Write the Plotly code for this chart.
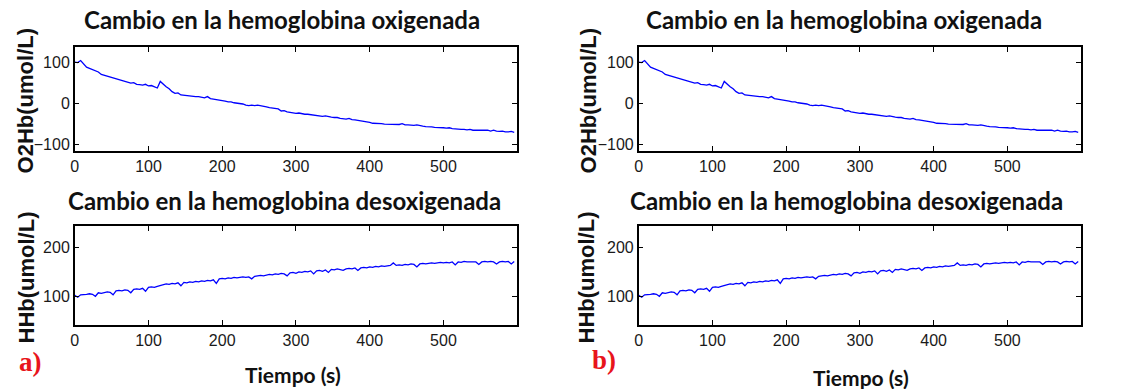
import plotly.graph_objects as go

# Time base (s) and hemoglobin concentration changes (umol/L)
tiempo = list(range(0, 600, 4))

o2hb = [
    100, 99, 104, 96, 88, 85, 82, 80, 76, 70, 68, 66, 63, 61, 59, 57, 56, 54, 52, 49,
    50, 46, 45, 44, 46, 42, 43, 40, 37, 53, 46, 40, 35, 28, 24, 25, 20, 19, 18, 18,
    17, 16, 16, 14, 13, 16, 11, 10, 9, 8, 6, 5, 3, 3, 1, 0, -1, -2, -5, -6,
    -5, -6, -5, -6, -8, -9, -11, -12, -13, -14, -19, -18, -21, -22, -23, -25, -24, -26, -27, -27,
    -28, -29, -29, -30, -32, -31, -33, -34, -35, -35, -37, -38, -39, -37, -40, -41, -42, -43, -44, -46,
    -47, -49, -49, -50, -50, -51, -51, -52, -52, -51, -52, -50, -53, -53, -54, -54, -53, -55, -56, -57,
    -57, -58, -59, -59, -60, -60, -61, -60, -62, -63, -63, -64, -64, -65, -64, -66, -66, -66, -67, -67,
    -66, -68, -66, -68, -69, -68, -70, -70, -69, -71,
]

hhb = [
    103, 99, 104, 104, 105, 106, 105, 101, 108, 107, 109, 110, 109, 104, 112, 113, 112, 114, 113, 108,
    115, 116, 115, 117, 111, 119, 120, 119, 121, 123, 124, 126, 125, 127, 126, 128, 122, 129, 128, 130,
    129, 131, 130, 132, 131, 133, 132, 134, 127, 136, 137, 136, 138, 137, 139, 138, 139, 140, 139, 140,
    136, 141, 142, 143, 142, 144, 145, 144, 146, 145, 147, 146, 142, 148, 149, 147, 150, 149, 151, 150,
    152, 146, 152, 153, 151, 154, 149, 155, 154, 156, 155, 153, 156, 157, 156, 158, 153, 158, 159, 158,
    160, 159, 161, 160, 162, 161, 162, 163, 168, 163, 164, 163, 165, 164, 166, 165, 160, 166, 167, 166,
    167, 168, 167, 168, 169, 168, 169, 168, 170, 164, 170, 169, 171, 170, 170, 171, 170, 165, 170, 171,
    170, 171, 170, 166, 170, 171, 170, 171, 166, 171,
]

x_ticks = [0, 100, 200, 300, 400, 500]
o2hb_ticks = [-100, 0, 100]
hhb_ticks = [100, 200]

titulo_o2 = "Cambio en la hemoglobina oxigenada"
titulo_hh = "Cambio en la hemoglobina desoxigenada"
etiqueta_o2 = "O2Hb(umol/L)"
etiqueta_hh = "HHb(umol/L)"
etiqueta_t = "Tiempo (s)"
paneles = ["a)", "b)"]

W, H = 1121, 389
LINE = "#0000ff"
TICK_FONT = dict(family="Liberation Sans Narrow, Liberation Sans, Arial", size=16, color="#1a1a1a")
TITLE_FONT = dict(family="Lato, Open Sans, sans-serif", size=24, color="#111111")
XLABEL_FONT = dict(family="Lato, Open Sans, sans-serif", size=21, color="#111111")
YLABEL_FONT = dict(family="Liberation Sans, Arial", size=22, color="#111111")
PANEL_FONT = dict(family="Liberation Serif, Times New Roman, serif", size=27, color="#e8141b")


def px(x):
    return x / W


def py(y):
    return 1 - y / H


fig = go.Figure()

# column and row extents of the plotting boxes, in pixels
cols = [(71, 515), (637, 1081)]
rows = [(47, 151.5), (227.3, 326.7)]

axis_common = dict(
    showline=True, linecolor="black", linewidth=1.5, mirror="ticks",
    ticks="inside", ticklen=5, tickcolor="black", tickwidth=1,
    showgrid=False, zeroline=False, tickfont=TICK_FONT,
)

idx = 0
for c, (x0, x1) in enumerate(cols):
    for r, (y0, y1) in enumerate(rows):
        idx += 1
        sfx = "" if idx == 1 else str(idx)
        xa = dict(axis_common, domain=[px(x0), px(x1)], range=[0, 600], tickvals=x_ticks,
                  anchor="y" + sfx)
        if r == 0:
            ya = dict(axis_common, domain=[py(y1), py(y0)], range=[-116, 137.6],
                      tickvals=o2hb_ticks, anchor="x" + sfx)
            yv = o2hb
        else:
            ya = dict(axis_common, domain=[py(y1), py(y0)], range=[43.2, 242],
                      tickvals=hhb_ticks, anchor="x" + sfx)
            yv = hhb
        fig.update_layout(**{"xaxis" + sfx: xa, "yaxis" + sfx: ya})
        fig.add_trace(go.Scatter(x=tiempo, y=yv, mode="lines",
                                 line=dict(color=LINE, width=1.3),
                                 xaxis="x" + sfx, yaxis="y" + sfx, showlegend=False))

annotations = []


def text(x, y, s, font, angle=0):
    annotations.append(dict(x=px(x), y=py(y), xref="paper", yref="paper", text=s,
                            showarrow=False, font=font, textangle=angle,
                            xanchor="center", yanchor="middle"))


for off in (0, 564):
    text(279 + off, 20, "<b>" + titulo_o2 + "</b>", TITLE_FONT)
    text(282 + off, 202, "<b>" + titulo_hh + "</b>", TITLE_FONT)
    text(22 + off + (1 if off else 0), 101, "<b>" + etiqueta_o2 + "</b>", YLABEL_FONT, -90)
    text(23 + off - (2 if off else 0), 279, "<b>" + etiqueta_hh + "</b>", YLABEL_FONT, -90)

text(290, 376, "<b>" + etiqueta_t + "</b>", XLABEL_FONT)
text(860, 379, "<b>" + etiqueta_t + "</b>", XLABEL_FONT)
text(27, 364, "<b>" + paneles[0] + "</b>", PANEL_FONT)
text(602, 362, "<b>" + paneles[1] + "</b>", PANEL_FONT)

fig.update_layout(
    width=W, height=H, margin=dict(l=0, r=0, t=0, b=0),
    paper_bgcolor="white", plot_bgcolor="white",
    annotations=annotations,
)

fig.write_html("out.html")
